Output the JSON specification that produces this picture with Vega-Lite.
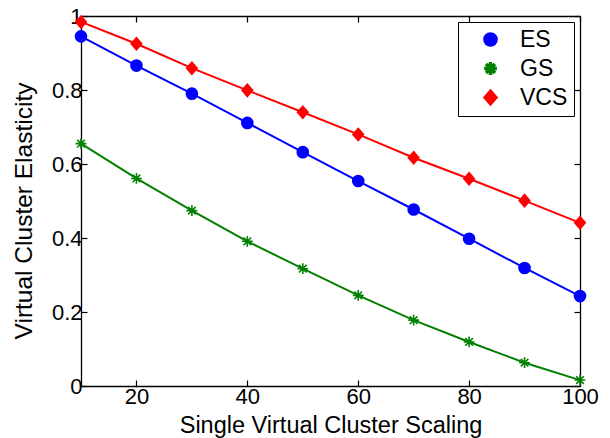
{
  "$schema": "https://vega.github.io/schema/vega-lite/v6.json",
  "width": 499,
  "height": 370,
  "autosize": {"type": "none"},
  "padding": {"left": 81, "top": 16, "right": 30, "bottom": 52},
  "background": "white",
  "config": {
    "view": {"stroke": null},
    "font": "Liberation Sans",
    "axis": {
      "grid": false,
      "domainColor": "black",
      "domainWidth": 1.3,
      "tickColor": "black",
      "tickWidth": 1.2,
      "tickSize": -6,
      "labelColor": "black",
      "labelFont": "Liberation Sans",
      "labelFontSize": 22,
      "labelFlush": false,
      "labelOverlap": false,
      "titleColor": "black",
      "titleFont": "Liberation Sans",
      "titleFontSize": 23.5,
      "titleFontWeight": "normal"
    },
    "legend": {
      "orient": "top-right",
      "offset": 6,
      "title": null,
      "strokeColor": "black",
      "fillColor": "white",
      "padding": 6,
      "labelFont": "Liberation Sans",
      "labelFontSize": 23,
      "labelColor": "black",
      "symbolSize": 160,
      "symbolOffset": 15,
      "labelOffset": 18,
      "rowPadding": 5,
      "symbolStrokeWidth": 2,
      "symbolOpacity": 1
    }
  },
  "data": {
    "values": [
      {"x": 10, "series": "ES", "y": 0.945}, {"x": 20, "series": "ES", "y": 0.866}, {"x": 30, "series": "ES", "y": 0.790}, {"x": 40, "series": "ES", "y": 0.711}, {"x": 50, "series": "ES", "y": 0.632},
      {"x": 60, "series": "ES", "y": 0.554}, {"x": 70, "series": "ES", "y": 0.477}, {"x": 80, "series": "ES", "y": 0.398}, {"x": 90, "series": "ES", "y": 0.319}, {"x": 100, "series": "ES", "y": 0.243},
      {"x": 10, "series": "GS", "y": 0.655}, {"x": 20, "series": "GS", "y": 0.561}, {"x": 30, "series": "GS", "y": 0.474}, {"x": 40, "series": "GS", "y": 0.391}, {"x": 50, "series": "GS", "y": 0.317},
      {"x": 60, "series": "GS", "y": 0.245}, {"x": 70, "series": "GS", "y": 0.178}, {"x": 80, "series": "GS", "y": 0.119}, {"x": 90, "series": "GS", "y": 0.063}, {"x": 100, "series": "GS", "y": 0.016},
      {"x": 10, "series": "VCS", "y": 0.984}, {"x": 20, "series": "VCS", "y": 0.925}, {"x": 30, "series": "VCS", "y": 0.859}, {"x": 40, "series": "VCS", "y": 0.799}, {"x": 50, "series": "VCS", "y": 0.740},
      {"x": 60, "series": "VCS", "y": 0.680}, {"x": 70, "series": "VCS", "y": 0.617}, {"x": 80, "series": "VCS", "y": 0.560}, {"x": 90, "series": "VCS", "y": 0.501}, {"x": 100, "series": "VCS", "y": 0.441}
    ]
  },
  "resolve": {"axis": {"x": "independent", "y": "independent"}},
  "layer": [
    {
      "mark": {"type": "line", "strokeWidth": 2},
      "encoding": {
        "x": {"field": "x", "type": "quantitative", "scale": {"domain": [10, 100], "nice": false, "zero": false},
              "axis": {"orient": "bottom", "values": [20, 40, 60, 80, 100], "title": "Single Virtual Cluster Scaling", "labelPadding": 6, "titlePadding": 6}},
        "y": {"field": "y", "type": "quantitative", "scale": {"domain": [0, 1], "nice": false},
              "axis": {"orient": "left", "values": [0, 0.2, 0.4, 0.6, 0.8, 1], "format": "~g", "title": "Virtual Cluster Elasticity", "labelPadding": 5, "titleFontSize": 24.5, "titleX": -57, "titleY": 194.5, "titleBaseline": "middle"}},
        "color": {"field": "series", "type": "nominal", "scale": {"domain": ["ES", "GS", "VCS"], "range": ["#0000ff", "#008000", "#ff0000"]},
          "legend": {
            "encode": {"symbols": {"update": {
              "shape": {"signal": "datum.value === 'ES' ? 'M-2.5,0L2.5,0M0.75,0A0.75,0.75 0 1,1 -0.75,0A0.75,0.75 0 1,1 0.75,0Z' : datum.value === 'GS' ? 'M-2.5,0L2.5,0M0,-0.65L0,0.65M-0.65,0L0.65,0M-0.46,-0.46L0.46,0.46M-0.46,0.46L0.46,-0.46' : 'M-2.5,0L2.5,0M0,-0.95L0.75,0L0,0.95L-0.75,0Z'"},
              "stroke": {"scale": "color", "field": "value"},
              "fill": {"scale": "color", "field": "value"},
              "strokeWidth": {"value": 2},
              "opacity": {"value": 1}
            }}}
          }}
      }
    },
    {
      "mark": {"type": "point", "filled": true, "size": 160, "opacity": 1},
      "encoding": {
        "x": {"field": "x", "type": "quantitative",
              "axis": {"orient": "top", "values": [20, 40, 60, 80, 100], "labels": false, "title": null}},
        "y": {"field": "y", "type": "quantitative",
              "axis": {"orient": "right", "values": [0, 0.2, 0.4, 0.6, 0.8, 1], "labels": false, "title": null}},
        "color": {"field": "series", "type": "nominal",
          "legend": {
            "encode": {"symbols": {"update": {
              "shape": {"signal": "datum.value === 'ES' ? 'M-2.5,0L2.5,0M0.75,0A0.75,0.75 0 1,1 -0.75,0A0.75,0.75 0 1,1 0.75,0Z' : datum.value === 'GS' ? 'M-2.5,0L2.5,0M0,-0.65L0,0.65M-0.65,0L0.65,0M-0.46,-0.46L0.46,0.46M-0.46,0.46L0.46,-0.46' : 'M-2.5,0L2.5,0M0,-0.95L0.75,0L0,0.95L-0.75,0Z'"},
              "stroke": {"scale": "color", "field": "value"},
              "fill": {"scale": "color", "field": "value"},
              "strokeWidth": {"value": 2},
              "opacity": {"value": 1}
            }}}
          }},
        "shape": {"field": "series", "type": "nominal", "scale": {"domain": ["ES", "GS", "VCS"], "range": ["circle", "M-0.125,-0.85L0.125,-0.85L0.125,0.85L-0.125,0.85ZM-0.85,-0.125L0.85,-0.125L0.85,0.125L-0.85,0.125ZM-0.688,-0.512L-0.512,-0.688L0.688,0.512L0.512,0.688ZM-0.512,0.688L-0.688,0.512L0.512,-0.688L0.688,-0.512Z", "M0,-1.15L1,0L0,1.15L-1,0Z"]}, "legend": null}
      }
    }
  ]
}
